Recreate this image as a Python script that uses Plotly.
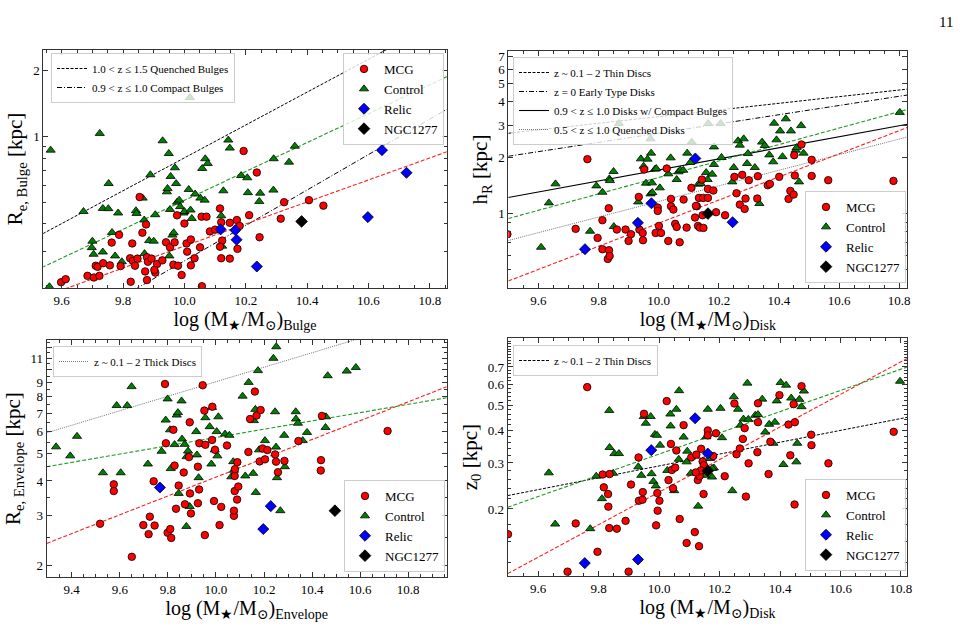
import plotly.graph_objects as go
import numpy as np

# ---------------- Panel 1: Bulge ----------------
p1_mcg_x = [9.598, 9.613, 9.684, 9.705, 9.723, 9.711, 9.717, 9.735, 9.757, 9.763, 9.787, 9.792, 9.830, 9.823, 9.832, 9.839, 9.847, 9.825, 9.854, 9.863, 9.875, 9.872, 9.878, 9.878, 9.881, 9.893, 9.905, 9.911, 9.928, 9.902, 9.940, 9.953, 9.968, 9.964, 9.979, 9.976, 9.991, 10.000, 10.009, 10.007, 10.021, 10.021, 10.033, 10.051, 10.056, 10.072, 10.057, 10.083, 10.100, 10.116, 10.120, 10.123, 10.116, 10.120, 10.148, 10.148, 10.173, 10.171, 10.180, 10.211, 10.193, 10.236, 10.245, 10.314, 10.325, 10.406, 10.453]
p1_mcg_y = [0.217, 0.224, 0.232, 0.228, 0.232, 0.258, 0.255, 0.265, 0.259, 0.329, 0.357, 0.257, 0.326, 0.279, 0.271, 0.258, 0.278, 0.218, 0.531, 0.365, 0.398, 0.243, 0.222, 0.282, 0.269, 0.278, 0.240, 0.263, 0.273, 0.247, 0.330, 0.313, 0.330, 0.261, 0.258, 0.438, 0.234, 0.402, 0.299, 0.326, 0.340, 0.259, 0.279, 0.313, 0.432, 0.432, 0.208, 0.370, 0.377, 0.471, 0.407, 0.336, 0.315, 0.279, 0.405, 0.278, 0.308, 0.417, 0.392, 0.439, 0.861, 0.687, 0.348, 0.423, 0.503, 0.514, 0.485]
p1_ctl_x = [9.564, 9.560, 9.671, 9.724, 9.700, 9.698, 9.704, 9.734, 9.734, 9.753, 9.752, 9.764, 9.774, 9.784, 9.796, 9.842, 9.844, 9.864, 9.869, 9.870, 9.885, 9.889, 9.900, 9.905, 9.929, 9.949, 9.943, 9.945, 9.953, 9.951, 9.955, 9.961, 9.965, 9.969, 9.973, 9.976, 9.983, 9.986, 9.997, 10.000, 10.014, 10.020, 10.024, 10.035, 10.052, 10.058, 10.068, 10.066, 10.076, 10.018, 10.120, 10.127, 10.143, 10.148, 10.123, 10.185, 10.205, 10.207, 10.247, 10.244, 10.291, 10.290, 10.341, 10.360]
p1_ctl_y = [0.869, 0.207, 0.456, 1.036, 0.334, 0.312, 0.291, 0.471, 0.298, 0.612, 0.470, 0.366, 0.286, 0.449, 0.269, 0.460, 0.447, 0.525, 0.417, 0.293, 0.336, 0.671, 0.334, 0.441, 0.959, 0.839, 0.561, 0.581, 0.466, 0.286, 0.659, 0.356, 0.365, 0.722, 0.612, 0.503, 0.514, 0.480, 0.449, 0.456, 0.575, 0.463, 0.424, 0.548, 0.525, 0.717, 0.794, 0.514, 0.755, 1.51, 0.436, 0.567, 0.966, 0.888, 0.317, 0.666, 0.650, 0.556, 0.553, 0.507, 0.794, 0.571, 0.766, 0.906]
p1_rel_x = [10.118, 10.166, 10.170, 10.236, 10.598, 10.644, 10.724]
p1_rel_y = [0.378, 0.375, 0.339, 0.256, 0.430, 0.869, 0.685]
p1_ngc_x = [10.382]
p1_ngc_y = [0.411]
p1_fit_x = [9.5, 10.9]
p1_mcg_fit_y = [0.178, 0.899]
p1_ctl_fit_y = [0.240, 2.01]
p1_quenched_y = [0.338, 3.79]
p1_compact_y = [0.107, 1.45]

# ---------------- Panel 2: Disk scale length ----------------
p2_mcg_x = [9.497, 9.763, 9.724, 9.797, 9.813, 9.813, 9.835, 9.831, 9.837, 9.834, 9.861, 9.890, 9.900, 9.908, 9.934, 9.936, 9.947, 9.948, 9.952, 9.997, 9.997, 9.990, 10.001, 10.008, 10.027, 10.032, 10.041, 10.041, 10.049, 10.055, 10.060, 10.070, 10.083, 10.093, 10.109, 10.121, 10.127, 10.131, 10.134, 10.137, 10.144, 10.146, 10.148, 10.149, 10.164, 10.164, 10.182, 10.191, 10.221, 10.252, 10.259, 10.270, 10.278, 10.289, 10.286, 10.300, 10.328, 10.330, 10.363, 10.370, 10.401, 10.432, 10.438, 10.449, 10.451, 10.453, 10.475, 10.509, 10.509, 10.564, 10.781, 10.124]
p2_mcg_y = [0.778, 1.968, 0.831, 0.743, 0.646, 0.925, 0.638, 0.573, 0.594, 1.073, 0.824, 0.824, 0.716, 0.778, 1.234, 0.824, 0.790, 0.722, 1.731, 1.081, 1.038, 0.790, 0.862, 0.790, 1.753, 0.716, 1.204, 1.099, 1.055, 0.884, 0.851, 0.704, 1.194, 0.844, 1.380, 0.956, 1.099, 0.862, 1.219, 0.844, 1.529, 0.984, 1.219, 0.841, 1.362, 1.219, 1.335, 1.021, 0.984, 1.581, 1.291, 1.122, 1.621, 1.209, 1.064, 1.517, 1.209, 1.594, 1.426, 1.449, 1.581, 1.204, 1.329, 1.270, 2.067, 1.607, 2.36, 1.951, 1.600, 1.517, 1.504, 1.104]
p2_ctl_x = [9.609, 9.635, 9.657, 9.772, 9.793, 9.813, 9.836, 9.838, 9.850, 9.851, 9.868, 9.932, 9.941, 9.950, 9.958, 9.963, 9.973, 9.975, 9.973, 9.978, 9.979, 9.988, 9.992, 10.004, 10.032, 10.040, 10.060, 10.066, 10.072, 10.082, 10.095, 10.105, 10.110, 10.132, 10.140, 10.158, 10.163, 10.165, 10.178, 10.184, 10.184, 10.206, 10.209, 10.245, 10.250, 10.264, 10.270, 10.283, 10.297, 10.294, 10.320, 10.335, 10.344, 10.353, 10.368, 10.381, 10.384, 10.392, 10.404, 10.412, 10.423, 10.440, 10.456, 10.459, 10.467, 10.474, 10.482, 10.802]
p2_ctl_y = [0.662, 1.146, 1.45, 0.807, 1.414, 1.307, 1.543, 1.51, 1.689, 0.855, 3.06, 1.16, 1.976, 1.804, 1.462, 1.968, 2.53, 2.12, 1.281, 1.468, 1.302, 1.739, 1.753, 1.38, 1.641, 2.0, 1.53, 1.683, 1.716, 1.716, 2.12, 1.888, 2.43, 1.444, 1.456, 1.668, 1.53, 3.06, 1.634, 1.842, 2.29, 3.06, 2.01, 1.486, 1.775, 2.47, 2.34, 2.53, 2.11, 1.865, 1.775, 1.137, 2.43, 2.33, 2.075, 1.904, 3.07, 2.5, 2.79, 2.03, 3.24, 2.79, 2.2, 2.27, 1.486, 2.98, 2.12, 3.51]
p2_rel_x = [9.755, 9.931, 9.976, 10.122, 10.246]
p2_rel_y = [0.646, 0.895, 1.141, 1.985, 0.902]
p2_ngc_x = [10.164]
p2_ngc_y = [1.004]
p2_fit_x = [9.5, 10.827]
p2_mcg_fit_y = [0.436, 2.91]
p2_ctl_fit_y = [0.944, 3.64]
p2_thin_y = [2.71, 4.68]
p2_early_y = [2.04, 4.35]
p2_compact_y = [1.225, 3.03]
p2_quenched_y = [0.72, 2.59]

# ---------------- Panel 3: Envelope ----------------
p3_mcg_x = [9.518, 9.575, 9.575, 9.650, 9.698, 9.720, 9.725, 9.741, 9.745, 9.792, 9.788, 9.799, 9.810, 9.814, 9.823, 9.828, 9.834, 9.845, 9.866, 9.871, 9.888, 9.891, 9.892, 9.896, 9.925, 9.925, 9.930, 9.931, 9.945, 9.952, 9.956, 9.954, 9.984, 9.985, 9.992, 9.996, 10.015, 10.022, 10.046, 10.075, 10.075, 10.078, 10.078, 10.079, 10.089, 10.088, 10.093, 10.135, 10.142, 10.162, 10.169, 10.186, 10.194, 10.182, 10.204, 10.214, 10.246, 10.250, 10.258, 10.285, 10.343, 10.437, 10.436, 10.441, 10.714]
p3_mcg_y = [2.81, 3.89, 3.68, 2.14, 2.78, 2.58, 2.98, 3.99, 2.77, 5.46, 8.9, 2.61, 2.69, 2.50, 6.10, 4.54, 3.18, 3.85, 4.29, 3.30, 4.87, 6.49, 3.61, 3.06, 4.50, 3.33, 3.73, 5.46, 8.81, 7.15, 5.39, 2.56, 5.61, 7.38, 3.39, 5.17, 2.78, 3.23, 5.36, 3.00, 3.13, 3.68, 4.17, 4.41, 4.67, 3.43, 3.82, 5.08, 6.67, 8.36, 6.86, 7.18, 5.23, 4.70, 4.78, 5.16, 4.98, 4.69, 4.30, 4.72, 5.56, 4.75, 4.36, 6.84, 6.04]
p3_ctl_x = [9.335, 9.394, 9.422, 9.530, 9.587, 9.604, 9.631, 9.649, 9.717, 9.774, 9.791, 9.799, 9.809, 9.812, 9.828, 9.837, 9.842, 9.845, 9.857, 9.859, 9.870, 9.877, 9.878, 9.884, 9.891, 9.918, 9.921, 9.928, 9.956, 9.974, 9.981, 9.984, 9.995, 10.003, 10.006, 10.010, 10.038, 10.056, 10.064, 10.072, 10.075, 10.111, 10.122, 10.136, 10.155, 10.158, 10.164, 10.166, 10.175, 10.179, 10.204, 10.239, 10.246, 10.250, 10.251, 10.254, 10.268, 10.284, 10.287, 10.332, 10.333, 10.341, 10.361, 10.379, 10.456, 10.458, 10.465, 10.544, 10.582]
p3_ctl_y = [5.30, 4.92, 5.78, 4.28, 7.45, 4.28, 7.45, 8.71, 4.60, 5.11, 6.61, 7.87, 6.10, 4.43, 5.40, 6.89, 7.03, 3.61, 7.74, 5.65, 5.41, 2.75, 4.89, 5.12, 3.24, 6.01, 4.96, 4.11, 6.74, 6.26, 4.60, 7.34, 5.17, 6.01, 4.92, 6.79, 5.89, 5.83, 4.14, 4.69, 4.37, 8.05, 4.17, 9.02, 4.26, 6.58, 7.22, 3.64, 9.94, 5.17, 5.58, 11.0, 7.08, 5.29, 12.1, 4.11, 3.13, 5.83, 4.50, 7.08, 6.67, 6.44, 5.58, 5.97, 6.22, 6.79, 9.53, 9.90, 10.2]
p3_rel_x = [9.767, 10.197, 10.228]
p3_rel_y = [3.79, 2.69, 3.25]
p3_ngc_x = [10.495]
p3_ngc_y = [3.13]
p3_fit_x = [9.296, 10.96]
p3_mcg_fit_y = [2.39, 8.7]
p3_ctl_fit_y = [4.5, 7.95]
p3_thick_y = [5.95, 16.1]

# ---------------- Panel 4: Disk scale height ----------------
p4_mcg_x = [9.500, 9.762, 9.697, 9.724, 9.796, 9.817, 9.813, 9.831, 9.832, 9.836, 9.835, 9.860, 9.889, 9.899, 9.907, 9.932, 9.933, 9.945, 9.946, 9.950, 9.994, 9.995, 9.990, 10.001, 10.025, 10.031, 10.039, 10.042, 10.046, 10.057, 10.053, 10.068, 10.081, 10.091, 10.106, 10.118, 10.123, 10.128, 10.132, 10.134, 10.139, 10.144, 10.147, 10.148, 10.161, 10.161, 10.179, 10.188, 10.217, 10.249, 10.256, 10.267, 10.283, 10.277, 10.287, 10.296, 10.325, 10.327, 10.327, 10.362, 10.368, 10.398, 10.428, 10.434, 10.445, 10.448, 10.449, 10.471, 10.503, 10.504, 10.560, 10.776, 10.138, 10.121]
p4_mcg_y = [0.160, 0.586, 0.115, 0.176, 0.137, 0.242, 0.271, 0.228, 0.204, 0.272, 0.169, 0.168, 0.180, 0.115, 0.248, 0.315, 0.215, 0.217, 0.232, 0.463, 0.230, 0.197, 0.173, 0.215, 0.518, 0.258, 0.355, 0.282, 0.240, 0.335, 0.288, 0.183, 0.419, 0.148, 0.315, 0.163, 0.323, 0.258, 0.144, 0.267, 0.340, 0.304, 0.228, 0.294, 0.400, 0.383, 0.319, 0.390, 0.267, 0.507, 0.324, 0.341, 0.408, 0.371, 0.223, 0.299, 0.330, 0.508, 0.430, 0.272, 0.362, 0.546, 0.421, 0.321, 0.504, 0.208, 0.430, 0.591, 0.385, 0.351, 0.299, 0.395, 0.281, 0.276]
p4_ctl_x = [9.635, 9.656, 9.772, 9.792, 9.811, 9.835, 9.836, 9.848, 9.852, 9.867, 9.931, 9.941, 9.949, 9.956, 9.972, 9.975, 9.981, 9.986, 9.989, 9.993, 10.003, 10.027, 10.037, 10.038, 10.050, 10.057, 10.065, 10.066, 10.081, 10.091, 10.093, 10.105, 10.129, 10.149, 10.156, 10.161, 10.168, 10.175, 10.181, 10.203, 10.208, 10.242, 10.247, 10.261, 10.269, 10.279, 10.292, 10.295, 10.318, 10.327, 10.341, 10.351, 10.364, 10.378, 10.383, 10.389, 10.402, 10.411, 10.420, 10.437, 10.454, 10.457, 10.464, 10.471, 10.479, 10.797, 10.153, 10.175]
p4_ctl_y = [0.275, 0.175, 0.168, 0.267, 0.219, 0.477, 0.344, 0.274, 0.326, 0.326, 0.290, 0.269, 0.452, 0.426, 0.452, 0.273, 0.255, 0.386, 0.245, 0.383, 0.351, 0.281, 0.462, 0.416, 0.235, 0.482, 0.310, 0.568, 0.377, 0.303, 0.333, 0.274, 0.205, 0.272, 0.378, 0.482, 0.312, 0.265, 0.287, 0.486, 0.375, 0.235, 0.538, 0.482, 0.419, 0.442, 0.607, 0.441, 0.457, 0.460, 0.527, 0.394, 0.422, 0.357, 0.430, 0.519, 0.610, 0.296, 0.596, 0.532, 0.303, 0.357, 0.526, 0.493, 0.566, 0.617, 0.269, 0.286]
p4_rel_x = [9.754, 9.930, 9.974, 10.119, 10.161]
p4_rel_y = [0.124, 0.128, 0.336, 0.445, 0.326]
p4_ngc_x = [10.161]
p4_ngc_y = [0.280]
p4_fit_x = [9.499, 10.821]
p4_mcg_fit_y = [0.113, 0.755]
p4_ctl_fit_y = [0.203, 0.70]
p4_thin_y = [0.225, 0.449]

group_names = ["MCG", "Control", "Relic", "NGC1277"]
group_colors = ["red", "green", "blue", "black"]
group_symbols = ["circle", "triangle-up", "diamond", "diamond"]
group_sizes = [7.5, 8, 8.5, 9]

SERIF = "Liberation Serif, Times New Roman, DejaVu Serif, serif"

fig = go.Figure()

panels = [
    dict(xa="x", ya="y", leg_m="legend", leg_l="legend2",
         groups=[(p1_mcg_x, p1_mcg_y), (p1_ctl_x, p1_ctl_y), (p1_rel_x, p1_rel_y), (p1_ngc_x, p1_ngc_y)],
         fit_x=p1_fit_x, fits=[p1_mcg_fit_y, p1_ctl_fit_y],
         lit=[("1.0 < z ≤ 1.5 Quenched Bulges", p1_quenched_y, "black", "3px,1.5px", 1.0),
              ("0.9 < z ≤ 1.0 Compact Bulges", p1_compact_y, "black", "5px,2px,1px,2px", 1.0)]),
    dict(xa="x2", ya="y2", leg_m="legend3", leg_l="legend4",
         groups=[(p2_mcg_x, p2_mcg_y), (p2_ctl_x, p2_ctl_y), (p2_rel_x, p2_rel_y), (p2_ngc_x, p2_ngc_y)],
         fit_x=p2_fit_x, fits=[p2_mcg_fit_y, p2_ctl_fit_y],
         lit=[("z ~ 0.1 – 2 Thin Discs", p2_thin_y, "black", "3px,1.5px", 1.0),
              ("z = 0 Early Type Disks", p2_early_y, "black", "5px,2px,1px,2px", 1.0),
              ("0.9 < z ≤ 1.0 Disks w/ Compact Bulges", p2_compact_y, "black", "solid", 1.1),
              ("0.5 < z ≤ 1.0 Quenched Disks", p2_quenched_y, "#777777", "1px,1px", 1.0)]),
    dict(xa="x3", ya="y3", leg_m="legend5", leg_l="legend6",
         groups=[(p3_mcg_x, p3_mcg_y), (p3_ctl_x, p3_ctl_y), (p3_rel_x, p3_rel_y), (p3_ngc_x, p3_ngc_y)],
         fit_x=p3_fit_x, fits=[p3_mcg_fit_y, p3_ctl_fit_y],
         lit=[("z ~ 0.1 – 2 Thick Discs", p3_thick_y, "#777777", "1px,1px", 1.0)]),
    dict(xa="x4", ya="y4", leg_m="legend7", leg_l="legend8",
         groups=[(p4_mcg_x, p4_mcg_y), (p4_ctl_x, p4_ctl_y), (p4_rel_x, p4_rel_y), (p4_ngc_x, p4_ngc_y)],
         fit_x=p4_fit_x, fits=[p4_mcg_fit_y, p4_ctl_fit_y],
         lit=[("z ~ 0.1 – 2 Thin Discs", p4_thin_y, "black", "3px,1.5px", 1.0)]),
]

fit_colors = ["#ff2020", "#1f9a1f"]

for p in panels:
    for (name, yy, col, dash, w) in p["lit"]:
        fig.add_trace(go.Scatter(x=p["fit_x"], y=yy, mode="lines", name=name,
                                 line=dict(color=col, dash=dash, width=w),
                                 xaxis=p["xa"], yaxis=p["ya"], legend=p["leg_l"]))
    for yy, col in zip(p["fits"], fit_colors):
        fig.add_trace(go.Scatter(x=p["fit_x"], y=yy, mode="lines", showlegend=False,
                                 line=dict(color=col, dash="4px,2px", width=1.1),
                                 xaxis=p["xa"], yaxis=p["ya"]))
    order = [1, 0, 2, 3]
    for gi in order:
        gx, gy = p["groups"][gi]
        fig.add_trace(go.Scatter(x=gx, y=gy, mode="markers", name=group_names[gi],
                                 marker=dict(color=group_colors[gi], symbol=group_symbols[gi],
                                             size=group_sizes[gi], line=dict(color="black", width=0.8)),
                                 xaxis=p["xa"], yaxis=p["ya"], legend=p["leg_m"],
                                 legendrank=gi + 1))

W, H = 977, 630


def dom_x(a, b):
    return [a / W, b / W]


def dom_y(top, bottom):
    return [1 - bottom / H, 1 - top / H]


axis_common = dict(showline=True, linecolor="#333333", linewidth=1, mirror="allticks",
                   ticks="inside", ticklen=5, tickwidth=1, tickcolor="#333333",
                   showgrid=False, zeroline=False, automargin=False,
                   tickfont=dict(family=SERIF, size=13, color="black"))

xminor = dict(ticks="inside", ticklen=3, tickwidth=0.8, tickcolor="#333333", dtick=0.05, showgrid=False)

xt_vals = [9.2, 9.4, 9.6, 9.8, 10.0, 10.2, 10.4, 10.6, 10.8]
xt_text = ["9.2", "9.4", "9.6", "9.8", "10.0", "10.2", "10.4", "10.6", "10.8"]

title_font = dict(family=SERIF, size=20, color="black")


def xaxis_def(dom, rng, anchor, title):
    d = dict(axis_common)
    d.update(domain=dom, range=rng, anchor=anchor, tickmode="array", tickvals=xt_vals, ticktext=xt_text,
             minor=xminor, title=dict(text=title, font=title_font, standoff=0))
    return d


def yaxis_def(dom, rng, anchor, tv, tt, minor_vals, title, standoff=4):
    d = dict(axis_common)
    d.update(domain=dom, type="log", range=rng, anchor=anchor, tickmode="array", tickvals=tv, ticktext=tt,
             minor=dict(ticks="inside", ticklen=3, tickwidth=0.8, tickcolor="#333333",
                        tickmode="array", tickvals=minor_vals, showgrid=False),
             title=dict(text=title, font=dict(family=SERIF, size=21, color="black"), standoff=standoff))
    return d


p1_yticks = [1, 2]
p2_yticks = [1, 2, 3, 4, 5, 6, 7]
p3_yticks = [2, 3, 4, 5, 6, 7, 8, 9, 10, 11, 12]
p3_ylabels = ["2", "3", "4", "5", "6", "7", "8", "9", "", "11", ""]
p4_yticks = [0.2, 0.3, 0.4, 0.5, 0.6, 0.7]

fig.update_layout(
    width=W, height=H, margin=dict(l=0, r=0, t=0, b=0),
    paper_bgcolor="white", plot_bgcolor="white",
    font=dict(family=SERIF, color="black"),
    xaxis=xaxis_def(dom_x(43.3, 446.7), [9.54, 10.855], "y", "log (M<sub>★</sub>/M<sub>⊙</sub>)<sub>Bulge</sub>"),
    yaxis=yaxis_def(dom_y(50, 288), [-0.690, 0.396], "x", p1_yticks, ["1", "2"],
                    [0.3, 0.4, 0.5, 0.6, 0.7, 0.8, 0.9], "R<sub>e, Bulge</sub> [kpc]"),
    xaxis2=xaxis_def(dom_x(508.3, 907.3), [9.5, 10.827], "y2", "log (M<sub>★</sub>/M<sub>⊙</sub>)<sub>Disk</sub>"),
    yaxis2=yaxis_def(dom_y(51, 288), [-0.398, 0.875], "x2", p2_yticks, [str(v) for v in p2_yticks],
                     [0.5, 0.6, 0.7, 0.8, 0.9], "h<sub>R</sub> [kpc]"),
    xaxis3=xaxis_def(dom_x(46.7, 446.7), [9.296, 10.96], "y3", "log (M<sub>★</sub>/M<sub>⊙</sub>)<sub>Envelope</sub>"),
    yaxis3=yaxis_def(dom_y(340, 577.3), [0.257, 1.107], "x3", p3_yticks, p3_ylabels,
                     [2.5, 3.5, 4.5, 5.5, 6.5, 7.5, 8.5, 9.5, 10.5, 11.5, 12.5], "R<sub>e, Envelope</sub> [kpc]"),
    xaxis4=xaxis_def(dom_x(507.7, 907.3), [9.499, 10.821], "y4", "log (M<sub>★</sub>/M<sub>⊙</sub>)<sub>Disk</sub>"),
    yaxis4=yaxis_def(dom_y(338.3, 576), [-0.956, -0.045], "x4", p4_yticks, [str(v) for v in p4_yticks],
                     [0.125, 0.15, 0.175, 0.22, 0.24, 0.26, 0.28, 0.32, 0.34, 0.36, 0.38, 0.42, 0.44, 0.46, 0.48,
                      0.52, 0.54, 0.56, 0.58, 0.62, 0.64, 0.66, 0.68, 0.72, 0.74, 0.76, 0.78, 0.8, 0.82, 0.84, 0.86, 0.88],
                     "z<sub>0</sub> [kpc]"),
)

leg_m_style = dict(bgcolor="rgba(255,255,255,0.8)", bordercolor="#cccccc", borderwidth=1,
                   font=dict(family=SERIF, size=13, color="black"), xanchor="left",
                   tracegroupgap=0, itemwidth=30, traceorder="normal")
leg_l_style = dict(bgcolor="rgba(255,255,255,0.8)", bordercolor="#cccccc", borderwidth=1,
                   font=dict(family=SERIF, size=11, color="black"), xanchor="left", yanchor="top",
                   tracegroupgap=0, itemwidth=30, traceorder="normal")

fig.update_layout(
    legend=dict(leg_m_style, x=343 / W, y=1 - 53 / H, yanchor="top"),
    legend2=dict(leg_l_style, x=51 / W, y=1 - 53 / H),
    legend3=dict(leg_m_style, x=805 / W, y=1 - 283 / H, yanchor="bottom"),
    legend4=dict(leg_l_style, x=513 / W, y=1 - 57 / H),
    legend5=dict(leg_m_style, x=344 / W, y=1 - 572 / H, yanchor="bottom"),
    legend6=dict(leg_l_style, x=53 / W, y=1 - 346 / H),
    legend7=dict(leg_m_style, x=805 / W, y=1 - 571 / H, yanchor="bottom"),
    legend8=dict(leg_l_style, x=513 / W, y=1 - 345 / H),
)

fig.add_annotation(text="11", x=955 / W, y=1 - 12 / H, xref="paper", yref="paper",
                   showarrow=False, font=dict(family=SERIF, size=15, color="black"))

fig.write_html("out.html")
